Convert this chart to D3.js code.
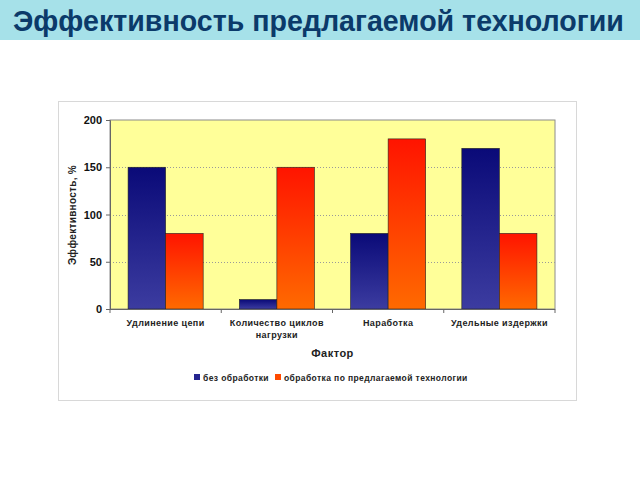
<!DOCTYPE html>
<html><head><meta charset="utf-8">
<script src="https://cdn.jsdelivr.net/npm/d3@7/dist/d3.min.js"></script>
<style>body{margin:0;background:#fff;}svg{display:block;}</style>
</head><body>
<script>
const title = "Эффективность предлагаемой технологии";
const categories = [["Удлинение цепи"], ["Количество циклов", "нагрузки"], ["Наработка"], ["Удельные издержки"]];
const seriesNames = ["без обработки", "обработка по предлагаемой технологии"];
const withoutTreatment = [150, 10, 80, 170];
const withTreatment = [80, 150, 180, 80];
const yTicks = [0, 50, 100, 150, 200];
const yTitle = "Эффективность, %";
const xTitle = "Фактор";

const W = 640, H = 480;
const svg = d3.select("body").append("svg").attr("width", W).attr("height", H);
const defs = svg.append("defs");
const gb = defs.append("linearGradient").attr("id","gBlue").attr("x1",0).attr("y1",0).attr("x2",0).attr("y2",1);
gb.append("stop").attr("offset","0%").attr("stop-color","#0a0a78");
gb.append("stop").attr("offset","100%").attr("stop-color","#3c3ca0");
const go = defs.append("linearGradient").attr("id","gOrange").attr("x1",0).attr("y1",0).attr("x2",0).attr("y2",1);
go.append("stop").attr("offset","0%").attr("stop-color","#ff1400");
go.append("stop").attr("offset","100%").attr("stop-color","#ff6a00");

// banner
svg.append("rect").attr("x",0).attr("y",0).attr("width",W).attr("height",40).attr("fill","#a6e1e9");
svg.append("text").attr("x",13).attr("y",31).attr("font-family","Liberation Sans, Arial, sans-serif")
  .attr("font-weight","bold").attr("font-size",28.6).attr("fill","#0b3a6a").text(title);

// chart frame
svg.append("rect").attr("x",58.5).attr("y",101.5).attr("width",518).attr("height",299)
  .attr("fill","#fff").attr("stroke","#d8d8d8");

const m = {l:110, r:555, t:120, b:309};
const x = d3.scaleBand().domain(d3.range(categories.length)).range([m.l, m.r]).paddingInner(0.325).paddingOuter(0.1625);
const y = d3.scaleLinear().domain([0,200]).range([m.b, m.t]);

svg.append("rect").attr("x",m.l).attr("y",m.t).attr("width",m.r-m.l).attr("height",m.b-m.t)
  .attr("fill","#ffff99").attr("stroke","#8c8c8c").attr("stroke-width",1);

// gridlines
svg.append("g").selectAll("line").data(yTicks.filter(d=>d>0 && d<200)).join("line")
  .attr("x1",m.l).attr("x2",m.r).attr("y1",d=>Math.round(y(d))+0.5).attr("y2",d=>Math.round(y(d))+0.5)
  .attr("stroke","#9a9a9a").attr("stroke-dasharray","1,2");

// bars
const bw = x.bandwidth()/2;
const bars = svg.append("g");
bars.selectAll(".b1").data(withoutTreatment).join("rect")
  .attr("x",(d,i)=>x(i)).attr("y",d=>y(d)).attr("width",bw).attr("height",d=>y(0)-y(d))
  .attr("fill","url(#gBlue)").attr("stroke","#222").attr("stroke-width",0.6);
bars.selectAll(".b2").data(withTreatment).join("rect")
  .attr("x",(d,i)=>x(i)+bw).attr("y",d=>y(d)).attr("width",bw).attr("height",d=>y(0)-y(d))
  .attr("fill","url(#gOrange)").attr("stroke","#222").attr("stroke-width",0.6);

// y axis
const yAxis = svg.append("g").attr("transform",`translate(${m.l},0)`)
  .call(d3.axisLeft(y).tickValues(yTicks).tickSize(4).tickPadding(4));
yAxis.select(".domain").attr("stroke","#666");
yAxis.selectAll(".tick line").attr("stroke","#666");
yAxis.selectAll("text").attr("font-family","Liberation Sans, Arial, sans-serif").attr("font-weight","bold")
  .attr("font-size",11).attr("fill","#111");

// x axis
const bounds = d3.range(categories.length+1).map(i=>m.l + i*(m.r-m.l)/categories.length);
svg.append("line").attr("x1",m.l).attr("x2",m.r).attr("y1",m.b+0.5).attr("y2",m.b+0.5).attr("stroke","#666");
svg.append("g").selectAll("line").data(bounds).join("line")
  .attr("x1",d=>d).attr("x2",d=>d).attr("y1",m.b).attr("y2",m.b+4).attr("stroke","#666");
const lab = svg.append("g").selectAll("text").data(categories).join("text")
  .attr("x",(d,i)=>x(i)+x.bandwidth()/2).attr("y",326).attr("text-anchor","middle")
  .attr("font-family","Liberation Sans, Arial, sans-serif").attr("font-weight","bold").attr("font-size",9)
  .attr("letter-spacing",0.4).attr("fill","#222");
lab.selectAll("tspan").data(d=>d).join("tspan").attr("x",function(){return this.parentNode.getAttribute("x");})
  .attr("dy",(d,i)=>i?12:0).text(d=>d);

svg.append("text").attr("x",(m.l+m.r)/2).attr("y",357).attr("text-anchor","middle")
  .attr("font-family","Liberation Sans, Arial, sans-serif").attr("font-weight","bold").attr("font-size",11)
  .attr("letter-spacing",0.5).attr("fill","#222").text(xTitle);

svg.append("text").attr("transform","translate(76,215) rotate(-90)").attr("text-anchor","middle")
  .attr("font-family","Liberation Sans, Arial, sans-serif").attr("font-weight","bold").attr("font-size",10)
  .attr("letter-spacing",0.3).attr("fill","#222").text(yTitle);

// legend
const lg = svg.append("g");
const legendX = [194, 275];
const legendFill = ["#25258f","#ff4a00"];
seriesNames.forEach((n,i)=>{
  lg.append("rect").attr("x",legendX[i]).attr("y",374).attr("width",6).attr("height",6).attr("fill",legendFill[i]);
  lg.append("text").attr("x",legendX[i]+9).attr("y",381).attr("font-family","Liberation Sans, Arial, sans-serif")
    .attr("font-weight","bold").attr("font-size",8.5).attr("letter-spacing",0.4).attr("fill","#222").text(n);
});
</script>
</body></html>
